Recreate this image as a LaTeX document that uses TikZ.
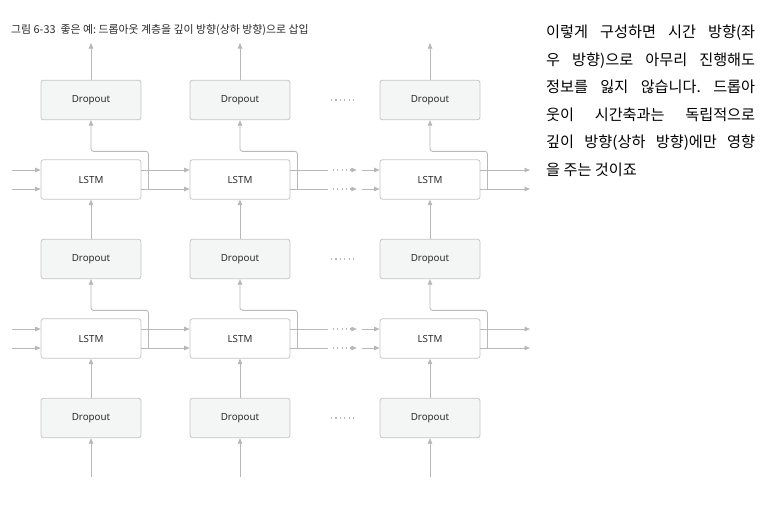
\documentclass[tikz,border=0pt]{standalone}
\usepackage{fontspec}
\setmainfont{Noto Sans}
\newfontfamily\krfont{Noto Sans CJK KR}
\newfontfamily\labelfont{Noto Sans}
\usetikzlibrary{arrows.meta}
\definecolor{boxgray}{HTML}{C6C6C6}
\definecolor{linegray}{HTML}{B8B8B8}
\definecolor{dropfill}{HTML}{F3F6F5}
\definecolor{labeltext}{HTML}{2E2E2E}
\definecolor{titletext}{HTML}{2A2A2A}
\tikzset{
  box/.style={draw=boxgray, line width=0.8pt, rounded corners=2.5pt, minimum width=100pt, minimum height=39.5pt, inner sep=0pt, font=\labelfont\fontsize{9.8}{11}\selectfont, text=labeltext},
  drop/.style={box, fill=dropfill},
  lstm/.style={box, fill=white},
  wire/.style={draw=linegray, line width=0.8pt},
  arr/.style={wire, -{Triangle[length=5.5pt,width=4.5pt]}},
  gap/.style={fill=white, draw=none, inner sep=0pt, minimum width=34pt, minimum height=4pt,
    path picture={\draw[linegray, line width=1.1pt, dash pattern=on 1.1pt off 3.3pt] ([xshift=5pt]path picture bounding box.west) -- ([xshift=-5pt]path picture bounding box.east);}},
}

\begin{document}
\frenchspacing
\begin{tikzpicture}[x=1pt, y=-1pt]
		%%%%% START %%%%%
		\path[use as bounding box, fill=white] (0,0) rectangle (766,507);
		
		\node[anchor=west, inner sep=0pt, text=titletext, font=\krfont\fontsize{10.9}{12}\selectfont] (title) at (11,30) {그림 6-33\ \ 좋은 예: 드롭아웃 계층을 깊이 방향(상하 방향)으로 삽입};
		
		% top row
		\node[drop] (d11) at (91,100) {Dropout};
		\node[drop] (d12) at (240,100) {Dropout};
		\node[drop] (d13) at (430,100) {Dropout};
		\node[gap] (dots1) at (343,100) {};
		
		\node[lstm] (l11) at (91,179.5) {LSTM};
		\node[lstm] (l12) at (240,179.5) {LSTM};
		\node[lstm] (l13) at (430,179.5) {LSTM};
		
		\node[drop] (d21) at (91,259) {Dropout};
		\node[drop] (d22) at (240,259) {Dropout};
		\node[drop] (d23) at (430,259) {Dropout};
		\node[gap] (dots2) at (343,259) {};
		
		\node[lstm] (l21) at (91,338.5) {LSTM};
		\node[lstm] (l22) at (240,338.5) {LSTM};
		\node[lstm] (l23) at (430,338.5) {LSTM};
		
		\node[drop] (d31) at (91,418) {Dropout};
		\node[drop] (d32) at (240,418) {Dropout};
		\node[drop] (d33) at (430,418) {Dropout};
		\node[gap] (dots3) at (343,418) {};
		
		% free ends
		\coordinate (out1) at (91,43);
		\coordinate (out2) at (240,43);
		\coordinate (out3) at (430,43);
		\coordinate (in1) at (91,477);
		\coordinate (in2) at (240,477);
		\coordinate (in3) at (430,477);
		\coordinate (la1) at (12,170);
		\coordinate (lb1) at (12,189);
		\coordinate (la2) at (12,329);
		\coordinate (lb2) at (12,348);
		\coordinate (ra1) at (530,170);
		\coordinate (rb1) at (530,189);
		\coordinate (ra2) at (530,329);
		\coordinate (rb2) at (530,348);
		
		% vertical
		\draw[arr] (d11.north) -- (out1);
		\draw[arr] (d12.north) -- (out2);
		\draw[arr] (d13.north) -- (out3);
		\draw[arr] (d21.north) -- (l11.south);
		\draw[arr] (d22.north) -- (l12.south);
		\draw[arr] (d23.north) -- (l13.south);
		\draw[arr] (d31.north) -- (l21.south);
		\draw[arr] (d32.north) -- (l22.south);
		\draw[arr] (d33.north) -- (l23.south);
		\draw[arr] (in1) -- (d31.south);
		\draw[arr] (in2) -- (d32.south);
		\draw[arr] (in3) -- (d33.south);
		
		% lstm -> dropout above
		\draw[arr, rounded corners=2.5pt] ([xshift=7pt,yshift=-9.5pt]l11.east) -- ([xshift=7pt,yshift=8pt]l11.north east) -| (d11.south);
		\draw[arr, rounded corners=2.5pt] ([xshift=7pt,yshift=-9.5pt]l12.east) -- ([xshift=7pt,yshift=8pt]l12.north east) -| (d12.south);
		\draw[arr, rounded corners=2.5pt] ([xshift=7pt,yshift=-9.5pt]l13.east) -- ([xshift=7pt,yshift=8pt]l13.north east) -| (d13.south);
		\draw[arr, rounded corners=2.5pt] ([xshift=7pt,yshift=-9.5pt]l21.east) -- ([xshift=7pt,yshift=8pt]l21.north east) -| (d21.south);
		\draw[arr, rounded corners=2.5pt] ([xshift=7pt,yshift=-9.5pt]l22.east) -- ([xshift=7pt,yshift=8pt]l22.north east) -| (d22.south);
		\draw[arr, rounded corners=2.5pt] ([xshift=7pt,yshift=-9.5pt]l23.east) -- ([xshift=7pt,yshift=8pt]l23.north east) -| (d23.south);
		
		% time direction, upper lstm row
		\draw[arr] (la1) -- (la1 -| l11.west);
		\draw[arr] (lb1) -- (lb1 -| l11.west);
		\draw[arr] ([yshift=9.5pt]l11.east) -- ([yshift=9.5pt]l12.west);
		\draw[arr] ([yshift=-9.5pt]l11.east) -- ([yshift=-9.5pt]l12.west);
		\draw[arr] ([yshift=9.5pt]l12.east) -- node[gap, pos=0.61] {} ([yshift=9.5pt]l13.west);
		\draw[arr] ([yshift=-9.5pt]l12.east) -- node[gap, pos=0.61] {} ([yshift=-9.5pt]l13.west);
		\draw[arr] ([yshift=9.5pt]l13.east) -- (ra1);
		\draw[arr] ([yshift=-9.5pt]l13.east) -- (rb1);
		
		% time direction, lower lstm row
		\draw[arr] (la2) -- (la2 -| l21.west);
		\draw[arr] (lb2) -- (lb2 -| l21.west);
		\draw[arr] ([yshift=9.5pt]l21.east) -- ([yshift=9.5pt]l22.west);
		\draw[arr] ([yshift=-9.5pt]l21.east) -- ([yshift=-9.5pt]l22.west);
		\draw[arr] ([yshift=9.5pt]l22.east) -- node[gap, pos=0.61] {} ([yshift=9.5pt]l23.west);
		\draw[arr] ([yshift=-9.5pt]l22.east) -- node[gap, pos=0.61] {} ([yshift=-9.5pt]l23.west);
		\draw[arr] ([yshift=9.5pt]l23.east) -- (ra2);
		\draw[arr] ([yshift=-9.5pt]l23.east) -- (rb2);
		
		% side text
		\node[anchor=north west, inner sep=0pt, align=left, text=black, font=\krfont\fontsize{15.2}{27.5}\selectfont] (desc) at (546,25) {%
			\makebox[209pt][s]{이렇게 구성하면 시간 방향(좌}\\
			\makebox[209pt][s]{우 방향)으로 아무리 진행해도}\\
			\makebox[209pt][s]{정보를 잃지 않습니다. 드롭아}\\
			\makebox[209pt][s]{웃이 시간축과는 독립적으로}\\
			\makebox[209pt][s]{깊이 방향(상하 방향)에만 영향}\\
			을 주는 것이죠};
		%%%%% END %%%%%
	\end{tikzpicture}
\end{document}
